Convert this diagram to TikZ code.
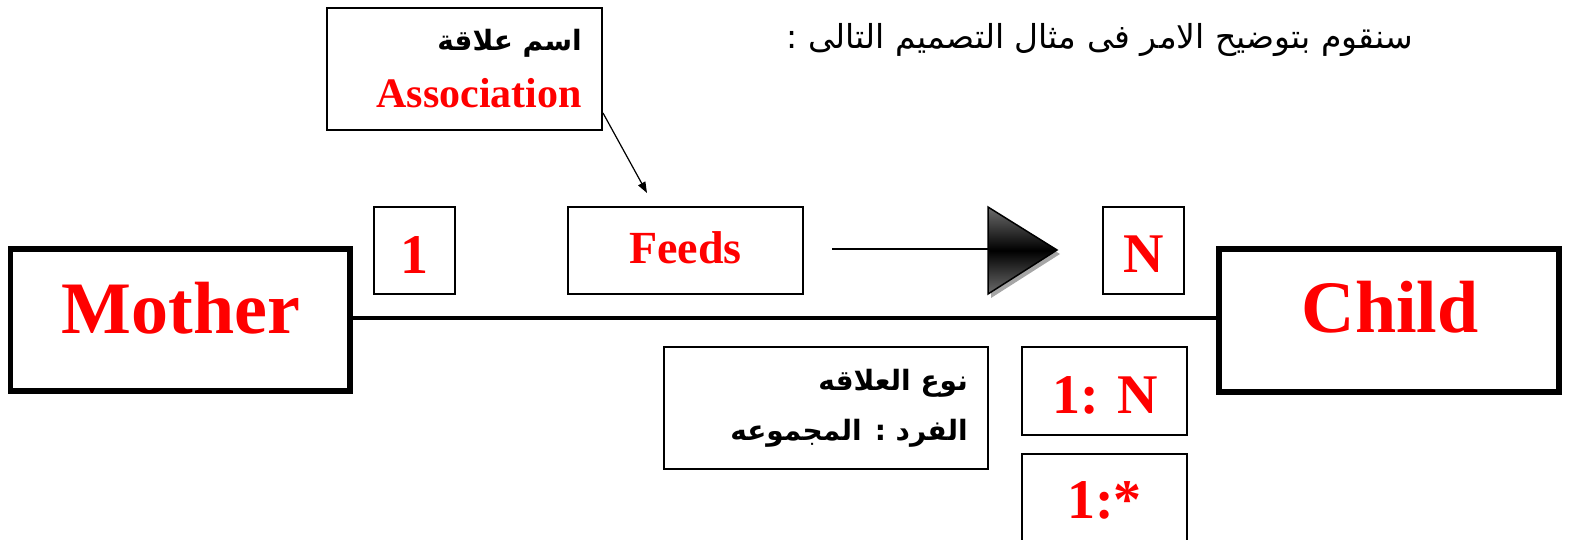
\documentclass[tikz,border=0pt]{standalone}
\usepackage{fontspec}
\setmainfont{Liberation Serif}
\newfontfamily\arabicfont[Script=Arabic]{DejaVu Sans}
\TeXXeTstate=1
\usetikzlibrary{arrows.meta}
\begin{document}
\begin{tikzpicture}[x=1pt,y=-1pt,
  entity/.style={draw,line width=5.5pt,inner sep=0pt},
  thinbox/.style={draw,line width=1.5pt,inner sep=0pt},
  redtxt/.style={text=red,inner sep=0pt,anchor=base},
  huge/.style={redtxt,font=\bfseries\fontsize{74}{74}\selectfont},
  big/.style={redtxt,font=\bfseries\fontsize{56}{56}\selectfont},
  mid/.style={redtxt,font=\bfseries\fontsize{46}{46}\selectfont},
  artxt/.style={inner sep=0pt,anchor=base east,font=\arabicfont\bfseries\fontsize{28}{28}\selectfont},
  artitle/.style={inner sep=0pt,anchor=base east,font=\arabicfont\fontsize{33}{33}\selectfont}]
\useasboundingbox (0,0) rectangle (1572,539);
\clip (0,0) rectangle (1572,539);
% entities
\node[entity,minimum width=339.5pt,minimum height=142pt] (mother) at (180.25,320) {};
\node[entity,minimum width=340pt,minimum height=143pt] (child) at (1389,320.5) {};
\node[huge] (mothert) at (181,333) {Mother};
\node[huge] (childt) at (1390,332) {Child};
\draw[line width=4.5pt] (mother.east |- 0,318) -- (child.west |- 0,318);
% multiplicities and name
\node[thinbox,minimum width=81pt,minimum height=87pt] (one) at (414.5,250.5) {};
\node[big] (onet) at (414.5,273) {1};
\node[thinbox,minimum width=235pt,minimum height=87pt] (feeds) at (685.5,250.5) {};
\node[mid] (feedst) at (685.5,263) {Feeds};
\node[thinbox,minimum width=81pt,minimum height=87pt] (n) at (1143.5,250.5) {};
\node[big] (nt) at (1143.5,272) {N};
% direction arrow
\coordinate (as) at (832,249);
\coordinate (ta) at (988,207);
\coordinate (tb) at (988,294);
\coordinate (tc) at (1057,250);
\fill[gray!70] ([shift={(3,4)}]ta) -- ([shift={(3,4)}]tc) -- ([shift={(3,4)}]tb) -- cycle;
\shade[top color=gray!85!black,bottom color=gray!85!black,middle color=black]
  (ta) -- (tc) -- (tb) -- cycle;
\draw[line width=1.5pt,line join=miter] (ta) -- (tc) -- (tb) -- cycle;
\draw[line width=1.2pt] (as) -- (988,249);
% association label
\node[thinbox,minimum width=275pt,minimum height=122pt] (assoc) at (464.5,69) {};
\node[artxt] (assocar) at (582,50) {\beginR اسم علاقة\endR};
\node[redtxt,anchor=base east,font=\bfseries\fontsize{42}{42}\selectfont] (assoct) at (582,107) {Association};
\coordinate (assocpt) at (603,113);
\draw[line width=1.2pt,-{Triangle[length=11pt,width=8pt]}] (assocpt) -- (647,193);
% title
\node[artitle] (title) at (1413,48) {\beginR سنقوم بتوضيح الامر فى مثال التصميم التالى :\endR};
% kind of relation
\node[thinbox,minimum width=324pt,minimum height=122pt] (kind) at (826,408) {};
\node[artxt] (kind1) at (968,390) {\beginR نوع العلاقه\endR};
\node[artxt] (kind2) at (968,440) {\beginR الفرد : المجموعه\endR};
\node[thinbox,minimum width=165pt,minimum height=88pt] (onen) at (1104.5,391) {};
\node[big] (onent) at (1105,413) {1: N};
\node[thinbox,minimum width=165pt,minimum height=88pt] (onestar) at (1104.5,498) {};
\node[big] (onestart) at (1104.5,518) {1:*};
\end{tikzpicture}
\end{document}
